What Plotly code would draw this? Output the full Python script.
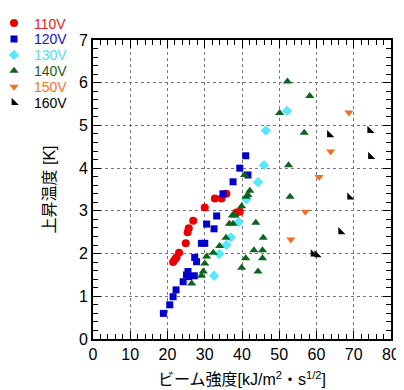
import plotly.graph_objects as go

# ---- data ----
x110 = [21.5, 22.0, 22.4, 23.1, 24.9, 25.4, 25.7, 26.9, 30.0, 32.7, 34.5, 35.8, 38.5, 39.4]
y110 = [1.80, 1.86, 1.91, 2.02, 2.24, 2.50, 2.59, 2.77, 3.08, 3.29, 3.29, 3.40, 2.96, 2.98]

x120 = [18.9, 20.6, 21.5, 22.3, 24.2, 25.1, 25.5, 25.7, 27.2, 27.3, 27.8, 29.1, 30.0, 30.5, 32.5, 33.2, 34.9, 37.6, 39.4, 41.6, 41.0]
y120 = [0.60, 0.80, 0.99, 1.15, 1.34, 1.50, 1.58, 1.46, 1.48, 1.91, 1.81, 2.24, 2.24, 2.69, 2.58, 2.88, 3.40, 3.68, 4.00, 3.84, 4.29]

x130 = [32.5, 33.9, 35.8, 37.0, 39.1, 41.2, 44.3, 45.9, 46.4, 52.1]
y130 = [1.48, 1.99, 2.20, 2.38, 2.74, 3.27, 3.67, 4.07, 4.88, 5.34]

x140 = [26.5, 29.1, 29.6, 30.0, 30.5, 32.3, 34.0, 35.7, 36.6, 37.6, 37.4, 38.1, 39.9, 41.1, 41.6, 42.1, 40.7,
        43.7, 45.7, 43.2, 45.5, 41.0, 45.5, 39.9, 44.3, 52.9, 52.5, 50.1, 56.7, 58.2, 52.2]
y140 = [1.30, 1.48, 1.58, 1.77, 1.93, 2.02, 2.18, 2.37, 2.70, 2.70, 2.89, 2.89, 3.11, 3.33, 3.37, 3.47, 3.84,
        2.72, 2.37, 2.08, 2.08, 1.89, 1.89, 1.67, 1.58, 3.33, 4.07, 5.29, 4.83, 5.69, 6.03]

x150 = [53.1, 57.0, 60.7, 63.8, 68.7]
y150 = [2.33, 2.98, 3.79, 4.39, 5.30]

x160 = [59.1, 60.1, 66.5, 68.9, 63.5, 74.5, 74.3]
y160 = [1.99, 1.97, 2.51, 3.32, 4.78, 4.27, 4.88]

x_ticks = [0, 10, 20, 30, 40, 50, 60, 70, 80]
y_ticks = [0, 1, 2, 3, 4, 5, 6, 7]

series = [
    ("110V", x110, y110, "circle", 8, "#e60000", "#e82020"),
    ("120V", x120, y120, "square", 7, "#0000cc", "#1414c8"),
    ("130V", x130, y130, "diamond", 8, "#55e8ff", "#50e0f0"),
    ("140V", x140, y140, "triangle-up", 8, "#0a6420", "#146414"),
    ("150V", x150, y150, "triangle-down", 8, "#f07020", "#f07828"),
    ("160V", x160, y160, "triangle-sw", 8, "#000000", "#000000"),
]

FONT = "Liberation Sans, Arial, Noto Sans CJK JP, sans-serif"
# the page body adds an 8px offset, so the figure is 8px smaller than the window
W, H = 396, 382
ML, MR, MT, MB = 85, 13, 32, 51
PW = W - ML - MR
PH = H - MT - MB

fig = go.Figure()
legend_layout = {}
for i, (name, xs, ys, sym, size, col, tcol) in enumerate(series):
    lid = "legend" if i == 0 else f"legend{i + 1}"
    fig.add_trace(go.Scatter(
        x=xs, y=ys, mode="markers", name=name, legend=lid,
        marker=dict(symbol=sym, size=size, color=col, line=dict(width=0)),
    ))
    top_px = 15.9 * i - 0.5          # legend box top, figure pixels
    left_px = -14
    legend_layout[lid] = dict(
        x=(left_px - ML) / PW, y=(H - MB - top_px) / PH, xref="paper", yref="paper",
        xanchor="left", yanchor="top",
        font=dict(size=14, family=FONT, color=tcol), bgcolor="rgba(0,0,0,0)",
        itemwidth=30, borderwidth=0,
    )

axis_common = dict(
    showline=True, linecolor="black", linewidth=2, mirror="allticks",
    ticks="inside", ticklen=8, tickcolor="black", tickwidth=1,
    showgrid=True, gridcolor="#777777", griddash="dot", gridwidth=1,
    zeroline=False, tickfont=dict(size=16, color="black", family=FONT),
)

fig.update_xaxes(
    range=[0, 80], tickvals=x_ticks, ticktext=[str(v) for v in x_ticks],
    minor=dict(dtick=2, ticks="inside", ticklen=5, tickcolor="black", showgrid=False),
    title=dict(text="ビーム強度[kJ/m<sup>2</sup>・s<sup>1/2</sup>]", font=dict(size=16, color="black", family=FONT), standoff=12),
    automargin=False,
    **axis_common,
)
fig.update_yaxes(
    range=[0, 7], tickvals=y_ticks, ticktext=[str(v) for v in y_ticks],
    minor=dict(dtick=0.2, ticks="inside", ticklen=5, tickcolor="black", showgrid=False),
    title=dict(text="上昇温度 [K]", font=dict(size=16, color="black", family=FONT), standoff=19),
    automargin=False,
    **axis_common,
)

fig.update_layout(
    width=W, height=H,
    margin=dict(l=ML, r=MR, t=MT, b=MB, autoexpand=False),
    paper_bgcolor="white", plot_bgcolor="white",
    font=dict(family=FONT, color="black"),
    showlegend=True,
    **legend_layout,
)

fig.write_html("out.html")
